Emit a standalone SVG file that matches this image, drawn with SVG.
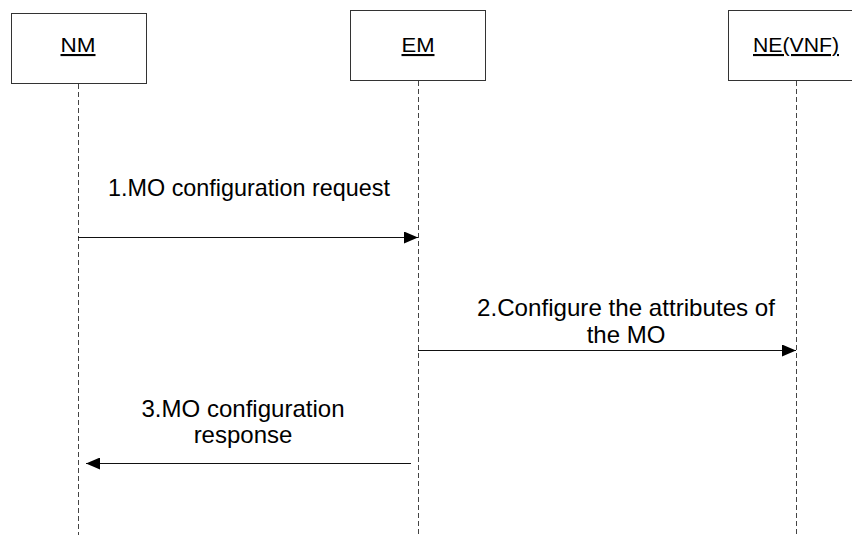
<svg xmlns="http://www.w3.org/2000/svg" width="852" height="535" viewBox="0 0 852 535">
<style>
.box{fill:#fff;stroke:#333;stroke-width:1}
.life{stroke:#444;stroke-width:1;stroke-dasharray:5,3;fill:none}
.msg{stroke:#111;stroke-width:1;fill:none}
.hd{font-family:"Liberation Sans",Arial,sans-serif;font-size:21px;fill:#000;text-anchor:middle;text-decoration:underline}
.lb{font-family:"Liberation Sans",Arial,sans-serif;font-size:24px;fill:#000;text-anchor:middle}
</style>
<defs>
<marker id="ah" markerWidth="14" markerHeight="12" refX="14" refY="6" orient="auto" markerUnits="userSpaceOnUse">
<path d="M0,0 L14,6 L0,12 Z" fill="#000"/>
</marker>
</defs>
<rect width="852" height="535" fill="#fff"/>
<g id="NM">
<rect class="box" x="11.5" y="13.5" width="135" height="70"/>
<text class="hd" x="78" y="52" textLength="35" lengthAdjust="spacingAndGlyphs">NM</text>
</g>
<g id="EM">
<rect class="box" x="350.5" y="10.5" width="135" height="70"/>
<text class="hd" x="418" y="52" textLength="33" lengthAdjust="spacingAndGlyphs">EM</text>
</g>
<g id="NE">
<rect class="box" x="728.5" y="10.5" width="140" height="70"/>
<text class="hd" x="796" y="52" textLength="86" lengthAdjust="spacingAndGlyphs">NE(VNF)</text>
</g>
<g id="connectors">
<line class="life" x1="78.5" y1="84" x2="78.5" y2="535"/>
<line class="life" x1="418.5" y1="81" x2="418.5" y2="535"/>
<line class="life" x1="796.5" y1="81" x2="796.5" y2="535"/>
<line class="msg" x1="78" y1="237.5" x2="418" y2="237.5" marker-end="url(#ah)"/>
<line class="msg" x1="418" y1="350.5" x2="796" y2="350.5" marker-end="url(#ah)"/>
<line class="msg" x1="411" y1="463.5" x2="86" y2="463.5" marker-end="url(#ah)"/>
<text class="lb" x="249" y="196" textLength="282" lengthAdjust="spacingAndGlyphs">1.MO configuration request</text>
<text class="lb" x="626" y="316" textLength="298" lengthAdjust="spacingAndGlyphs">2.Configure the attributes of</text>
<text class="lb" x="626" y="343">the MO</text>
<text class="lb" x="243" y="417" textLength="203" lengthAdjust="spacingAndGlyphs">3.MO configuration</text>
<text class="lb" x="243" y="443">response</text>
</g>
</svg>
